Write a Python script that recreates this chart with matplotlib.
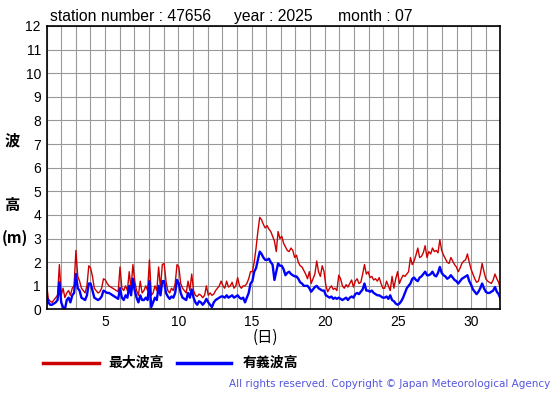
import numpy as np
import matplotlib.pyplot as plt

plt.rcParams['font.family'] = ['Liberation Sans', 'Noto Sans CJK JP', 'DejaVu Sans']

# 3-hourly readings, July 2025, station 47656
max_wave = [
    1.1, 0.45, 0.35, 0.3, 0.4, 0.5, 0.6, 1.9,       # 1
    0.6, 0.9, 0.5, 0.7, 0.8, 0.6, 0.9, 1.0,         # 2
    2.5, 1.4, 1.2, 0.9, 0.8, 0.7, 1.0, 1.85,        # 3
    1.75, 1.4, 0.9, 0.8, 0.7, 0.75, 0.9, 1.3,       # 4
    1.25, 1.1, 1.0, 0.95, 0.9, 0.85, 0.8, 0.75,     # 5
    1.8, 0.9, 0.8, 1.0, 0.8, 1.6, 0.9, 1.9,         # 6
    1.2, 0.8, 0.6, 1.2, 0.7, 0.8, 1.0, 0.8,         # 7
    2.1, 0.6, 0.7, 1.0, 0.8, 1.8, 0.9, 1.9,         # 8
    1.95, 1.2, 0.8, 0.7, 0.9, 0.8, 1.1, 1.9,        # 9
    1.8, 1.1, 0.9, 0.8, 0.7, 1.2, 0.8, 1.5,         # 10
    0.8, 0.6, 0.55, 0.65, 0.6, 0.5, 0.6, 1.0,       # 11
    0.6, 0.7, 0.6, 0.65, 0.8, 0.9, 1.0, 1.2,        # 12
    1.0, 0.9, 1.2, 0.95, 1.0, 1.15, 0.9, 1.0,       # 13
    1.35, 1.0, 0.9, 1.0, 1.0, 1.1, 1.3, 1.6,        # 14
    1.6, 2.0, 2.6, 3.3, 3.9, 3.8, 3.6, 3.45,        # 15
    3.55, 3.4, 3.3, 3.1, 2.9, 2.45, 3.3, 3.0,       # 16
    3.1, 2.8, 2.65, 2.5, 2.45, 2.6, 2.5, 2.2,       # 17
    2.3, 2.0, 1.85, 1.8, 1.65, 1.5, 1.3, 1.6,       # 18
    1.1, 1.3, 1.5, 2.05, 1.6, 1.4, 1.85, 1.6,       # 19
    1.0, 0.75, 0.9, 1.0, 0.85, 0.9, 0.8, 1.45,      # 20
    1.3, 1.0, 0.9, 1.05, 0.95, 1.1, 1.25, 0.95,     # 21
    1.2, 1.3, 1.1, 1.15, 1.5, 1.9, 1.5, 1.6,        # 22
    1.35, 1.4, 1.25, 1.3, 1.2, 1.35, 1.1, 0.9,      # 23
    0.9, 1.2, 1.0, 0.8, 1.4, 0.9, 1.3, 1.6,         # 24
    1.1, 1.3, 1.45, 1.4, 1.5, 1.6, 2.2, 1.9,        # 25
    2.05, 2.3, 2.6, 2.2, 2.25, 2.4, 2.7, 2.2,       # 26
    2.45, 2.35, 2.6, 2.45, 2.5, 2.4, 2.95, 2.5,     # 27
    2.3, 2.15, 2.0, 1.95, 2.2, 2.05, 1.9, 1.8,      # 28
    1.6, 1.75, 1.95, 2.05, 2.1, 2.35, 2.0, 1.7,     # 29
    1.5, 1.3, 1.15, 1.2, 1.5, 1.95, 1.6, 1.3,       # 30
    1.2, 1.15, 1.1, 1.25, 1.5, 1.3, 1.15, 0.85,     # 31
]
sig_wave = [
    0.6, 0.3, 0.2, 0.2, 0.25, 0.3, 0.4, 1.15,
    0.3, 0.1, 0.0, 0.4, 0.5, 0.3, 0.6, 0.7,
    1.5, 0.9, 0.8, 0.5, 0.45, 0.4, 0.6, 1.1,
    1.1, 0.8, 0.5, 0.45, 0.4, 0.45, 0.55, 0.8,
    0.75, 0.7, 0.7, 0.65, 0.6, 0.55, 0.5, 0.45,
    0.9, 0.5, 0.4, 0.6, 0.5, 1.0, 0.6, 1.3,
    0.8, 0.5, 0.3, 0.6, 0.4, 0.4, 0.5, 0.4,
    1.2, 0.1, 0.3, 0.5, 0.4, 1.0, 0.6, 1.2,
    1.2, 0.7, 0.55, 0.45, 0.55, 0.5, 0.7, 1.25,
    1.1, 0.7, 0.5, 0.45, 0.4, 0.7, 0.5, 0.85,
    0.5, 0.3, 0.2, 0.35, 0.3, 0.2, 0.3, 0.45,
    0.3, 0.2, 0.1, 0.3, 0.4, 0.45, 0.5, 0.55,
    0.55, 0.5, 0.6, 0.5, 0.55, 0.6, 0.5, 0.55,
    0.6, 0.5, 0.45, 0.5, 0.3, 0.5, 0.7, 1.1,
    1.2, 1.6, 1.75, 2.1, 2.45, 2.35, 2.2, 2.1,
    2.1, 2.15, 2.0, 1.9, 1.25, 1.6, 1.95, 1.85,
    1.85, 1.7, 1.45, 1.55, 1.6, 1.5, 1.45, 1.4,
    1.4, 1.3, 1.15, 1.1, 1.0, 1.0, 1.0, 0.9,
    0.75, 0.85, 0.95, 1.0, 0.9, 0.85, 0.8, 0.8,
    0.6, 0.55, 0.5, 0.55, 0.45, 0.5, 0.45, 0.5,
    0.45, 0.4, 0.45, 0.5, 0.4, 0.5, 0.55, 0.5,
    0.65, 0.7, 0.65, 0.75, 0.85, 1.1, 0.8, 0.8,
    0.75, 0.8, 0.7, 0.65, 0.6, 0.6, 0.55, 0.5,
    0.5, 0.55, 0.45, 0.6, 0.4, 0.35, 0.25, 0.2,
    0.25, 0.35, 0.5, 0.7, 0.9, 1.0, 1.1, 1.3,
    1.35, 1.25, 1.2, 1.35, 1.4, 1.5, 1.6, 1.45,
    1.45, 1.5, 1.6, 1.45, 1.4, 1.55, 1.8, 1.55,
    1.45, 1.4, 1.3, 1.35, 1.45, 1.35, 1.25, 1.2,
    1.1, 1.2, 1.3, 1.35, 1.4, 1.45, 1.2, 1.05,
    0.85, 0.75, 0.65, 0.75, 0.9, 1.1, 0.9, 0.75,
    0.7, 0.7, 0.75, 0.8, 0.95, 0.75, 0.65, 0.45,
]
day_ticks = [5, 10, 15, 20, 25, 30]

days = np.linspace(1, 32, len(max_wave))

fig = plt.figure(figsize=(5.55, 3.95), dpi=100)
ax = fig.add_axes([0.0838, 0.2165, 0.818, 0.7177])

ax.plot(days, max_wave, color='#cc0000', lw=1.0)
ax.plot(days, sig_wave, color='#0000ff', lw=1.7)

ax.set_xlim(1, 32)
ax.set_ylim(0, 12)
ax.set_xticks(day_ticks)
ax.set_xticks(range(1, 33), minor=True)
ax.set_yticks(range(0, 13))
ax.grid(True, which='both', color='#999999', lw=0.8)
ax.set_axisbelow(True)
ax.tick_params(which='both', length=0, labelsize=10, pad=4)
for s in ax.spines.values():
    s.set_linewidth(1.2)

# header
H = 395
for t, x in [('station number : 47656', 50), ('year : 2025', 234), ('month : 07', 338)]:
    fig.text(x, H - 21, t, transform=None, fontsize=11.3)

fig.text(265, H - 337, '(日)', transform=None, fontsize=11, ha='center',
         va='center', family=['Noto Sans CJK JP'])
for t, x, y in [('波', 12, 140), ('高', 12, 205), ('(m)', 15, 238)]:
    fig.text(x, H - y, t, transform=None, fontsize=11, ha='center',
             va='center', weight='bold', family=['Noto Sans CJK JP'])

# legend
fig.add_artist(plt.Line2D([43 / 555, 99 / 555], [1 - 363 / H] * 2,
                          color='#cc0000', lw=2.5))
fig.add_artist(plt.Line2D([177 / 555, 231 / 555], [1 - 363 / H] * 2,
                          color='#0000ff', lw=2.5))
fig.text(108, H - 363, '最大波高', transform=None, fontsize=10, va='center',
         weight='bold', family=['Noto Sans CJK JP'])
fig.text(243, H - 363, '有義波高', transform=None, fontsize=10, va='center',
         weight='bold', family=['Noto Sans CJK JP'])
fig.text(550, H - 384, 'All rights reserved. Copyright © Japan Meteorological Agency',
         transform=None, fontsize=7.5, ha='right', va='center', color='#5555dd',
         family=['DejaVu Sans'])

fig.savefig('out.png', dpi=100)
